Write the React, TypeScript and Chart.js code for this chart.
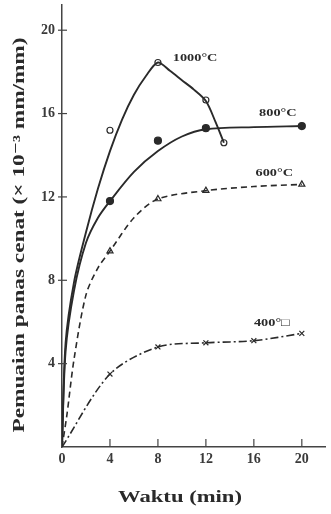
import React, { useEffect, useRef } from "react";
import { Chart, registerables } from "chart.js";
Chart.register(...registerables);

// Tick labels
const xTickValues = [0, 4, 8, 12, 16, 20];
const yTickValues = [4, 8, 12, 16, 20];

// 1000 °C curve and markers
const c1000X = [0, 0.3, 1, 2, 3, 4, 5, 6, 7, 8, 9, 10, 11, 12, 12.8, 13.5];
const c1000Y = [0, 5, 7.9, 10.3, 12.4, 14.2, 15.7, 16.9, 17.8, 18.45, 18.05, 17.6, 17.15, 16.6, 15.6, 14.6];
const m1000X = [4, 8, 12, 13.5];
const m1000Y = [15.2, 18.45, 16.65, 14.6];

// 800 °C
const c800X = [0, 0.3, 1, 2, 3, 4, 6, 8, 10, 12, 16, 20];
const c800Y = [0, 4.6, 7.5, 9.8, 11.0, 11.8, 13.2, 14.2, 14.9, 15.25, 15.35, 15.4];
const m800X = [4, 8, 12, 20];
const m800Y = [11.8, 14.7, 15.3, 15.4];

// 600 °C
const c600X = [0, 0.4, 1, 2, 3, 4, 6, 8, 12, 16, 20];
const c600Y = [0, 1.5, 4.2, 7.3, 8.6, 9.4, 11.0, 11.9, 12.3, 12.5, 12.6];
const m600X = [4, 8, 12, 20];
const m600Y = [9.4, 11.9, 12.3, 12.6];

// 400 °C
const c400X = [0, 4, 8, 12, 16, 20];
const c400Y = [0, 3.5, 4.8, 5.0, 5.1, 5.45];
const m400X = [4, 8, 12, 16, 20];
const m400Y = [3.5, 4.8, 5.0, 5.1, 5.45];

// Series labels (text + anchor in data units)
const seriesLabels = ["1000°C", "800°C", "600°C", "400°□"];
const labelX = [11.1, 18.0, 17.7, 17.5];
const labelY = [18.65, 16.0, 13.15, 5.95];

const xTitle = "Waktu (min)";
const yTitle = "Pemuaian panas cenat (× 10⁻³ mm/mm)";

const INK = "#2a2a2a";
const SERIF = '"Liberation Serif", "DejaVu Serif", serif';

const pts = (xs: number[], ys: number[]) => xs.map((x, i) => ({ x, y: ys[i] }));

function drawStretched(
  ctx: CanvasRenderingContext2D,
  text: string,
  x: number,
  y: number,
  font: string,
  sx: number,
  rotate = false
) {
  ctx.save();
  ctx.translate(x, y);
  if (rotate) ctx.rotate(-Math.PI / 2);
  ctx.scale(sx, 1);
  ctx.font = font;
  ctx.fillStyle = INK;
  ctx.textAlign = "center";
  ctx.textBaseline = "middle";
  ctx.fillText(text, 0, 0);
  ctx.restore();
}

const decorPlugin = {
  id: "decor",
  afterDraw(chart: any) {
    const { ctx, scales, chartArea } = chart;
    const xs = scales.x;
    const ys = scales.y;
    ctx.save();
    ctx.strokeStyle = "#444";
    ctx.lineWidth = 1.2;
    yTickValues.forEach((v) => {
      const py = ys.getPixelForValue(v);
      ctx.beginPath();
      ctx.moveTo(chartArea.left - 4, py);
      ctx.lineTo(chartArea.left + 5, py);
      ctx.stroke();
    });
    xTickValues.slice(1).forEach((v) => {
      const px = xs.getPixelForValue(v);
      ctx.beginPath();
      ctx.moveTo(px, chartArea.bottom);
      ctx.lineTo(px, chartArea.bottom - 8);
      ctx.stroke();
    });
    ctx.restore();

    seriesLabels.forEach((t, i) => {
      drawStretched(
        ctx,
        t,
        xs.getPixelForValue(labelX[i]),
        ys.getPixelForValue(labelY[i]),
        `bold 11px ${SERIF}`,
        1.3
      );
    });

    ctx.save();
    ctx.font = `bold 16px ${SERIF}`;
    const wy = ctx.measureText(yTitle).width;
    ctx.font = `bold 17px ${SERIF}`;
    const wx = ctx.measureText(xTitle).width;
    ctx.restore();
    drawStretched(ctx, yTitle, 20, 235, `bold 16px ${SERIF}`, 395 / wy, true);
    drawStretched(ctx, xTitle, 180, 498, `bold 17px ${SERIF}`, 124 / wx);
  },
};

export default function App() {
  const ref = useRef<HTMLCanvasElement>(null);
  useEffect(() => {
    if (!ref.current) return;
    const line = (xs: number[], ys: number[], dash: number[], w: number) => ({
      type: "line" as const,
      data: pts(xs, ys),
      borderColor: INK,
      borderWidth: w,
      borderDash: dash,
      pointRadius: 0,
      fill: false,
      tension: 0.3,
    });
    const marks = (xs: number[], ys: number[], style: string, filled: boolean, r: number) => ({
      type: "scatter" as const,
      data: pts(xs, ys),
      pointStyle: style,
      pointRadius: r,
      pointBorderWidth: 1.2,
      pointBorderColor: INK,
      pointBackgroundColor: filled ? INK : "#ffffff",
      showLine: false,
    });
    const chart = new Chart(ref.current, {
      type: "scatter",
      data: {
        datasets: [
          line(c1000X, c1000Y, [], 1.9),
          line(c800X, c800Y, [], 1.9),
          line(c600X, c600Y, [6, 4], 1.6),
          line(c400X, c400Y, [8, 3, 2, 3], 1.6),
          marks(m1000X, m1000Y, "circle", false, 3),
          marks(m800X, m800Y, "circle", true, 3.5),
          marks(m600X, m600Y, "triangle", false, 3.5),
          marks(m400X, m400Y, "crossRot", false, 3.5),
        ] as any,
      },
      options: {
        responsive: false,
        animation: false,
        events: [],
        layout: { padding: { top: 5, right: 0, left: 0, bottom: 0 } },
        plugins: { legend: { display: false }, tooltip: { enabled: false }, title: { display: false } },
        scales: {
          x: {
            type: "linear",
            min: 0,
            max: 22,
            grid: { display: false, drawTicks: false },
            border: { display: true, color: "#444", width: 1.5 },
            afterBuildTicks: (s: any) => {
              s.ticks = xTickValues.map((v) => ({ value: v }));
            },
            afterFit: (s: any) => {
              s.height = 67;
              s.paddingLeft = 0;
              s.paddingRight = 0;
            },
            ticks: {
              padding: 4,
              maxRotation: 0,
              autoSkip: false,
              color: "#3a3a3a",
              font: { family: SERIF, size: 14, weight: "bold" },
            },
          },
          y: {
            type: "linear",
            min: 0,
            max: 21.2,
            grid: { display: false, drawTicks: false },
            border: { display: true, color: "#444", width: 1.5 },
            afterBuildTicks: (s: any) => {
              s.ticks = yTickValues.map((v) => ({ value: v }));
            },
            afterFit: (s: any) => {
              s.width = 62;
              s.paddingTop = 0;
              s.paddingBottom = 0;
            },
            ticks: {
              padding: 7,
              autoSkip: false,
              color: "#3a3a3a",
              font: { family: SERIF, size: 14, weight: "bold" },
            },
          },
        },
      },
      plugins: [decorPlugin],
    });
    return () => chart.destroy();
  }, []);
  return (
    <div style={{ position: "fixed", left: 0, top: 0, width: 331, height: 514, background: "#fff" }}>
      <canvas ref={ref} width={331} height={514} style={{ display: "block" }} />
    </div>
  );
}
